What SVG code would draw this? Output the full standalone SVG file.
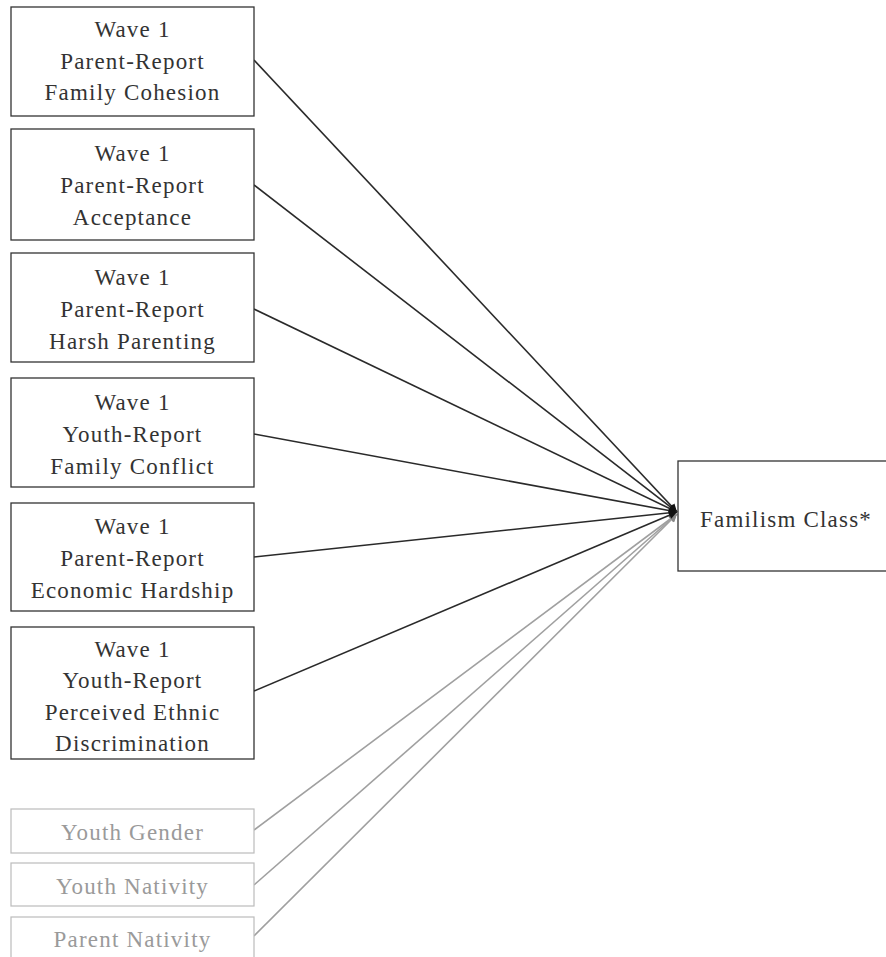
<svg xmlns="http://www.w3.org/2000/svg" width="886" height="957" viewBox="0 0 886 957">
<style>
.box{fill:#fff;stroke:#333;stroke-width:1.3}
.gbox{fill:#fff;stroke:#bbb;stroke-width:1.2}
text{font-family:'Liberation Serif','Times New Roman',Times,serif;font-size:23px;letter-spacing:1.2px;text-anchor:middle;fill:#333}
.g text{fill:#9a9a9a}
.c line{stroke:#2a2a2a;stroke-width:1.6;fill:none}
.c line.gl{stroke:#a0a0a0;stroke-width:1.6}
</style>
<defs>
<marker id="ah" viewBox="0 0 10 10" refX="10" refY="5" markerWidth="10" markerHeight="8" orient="auto" markerUnits="userSpaceOnUse"><path d="M0,0 L10,5 L0,10 z" fill="#111"/></marker>
<marker id="ahg" viewBox="0 0 10 10" refX="10" refY="5" markerWidth="10" markerHeight="8" orient="auto" markerUnits="userSpaceOnUse"><path d="M0,0 L10,5 L0,10 z" fill="#888"/></marker>
</defs>
<g class="c" id="connectors">
<line class="gl" x1="254" y1="830" x2="677" y2="514" marker-end="url(#ahg)"/>
<line class="gl" x1="254" y1="885" x2="677" y2="514" marker-end="url(#ahg)"/>
<line class="gl" x1="254" y1="936" x2="677" y2="514" marker-end="url(#ahg)"/>
<line x1="254" y1="60" x2="677" y2="512" marker-end="url(#ah)"/>
<line x1="254" y1="185" x2="677" y2="512" marker-end="url(#ah)"/>
<line x1="254" y1="309" x2="677" y2="512" marker-end="url(#ah)"/>
<line x1="254" y1="434" x2="677" y2="512" marker-end="url(#ah)"/>
<line x1="254" y1="557" x2="677" y2="512" marker-end="url(#ah)"/>
<line x1="254" y1="691" x2="677" y2="512" marker-end="url(#ah)"/>
</g>
<g id="n1"><rect class="box" x="11" y="7" width="243" height="109"/><text x="132.5" y="37">Wave 1</text><text x="132.5" y="69">Parent-Report</text><text x="132.5" y="100">Family Cohesion</text></g>
<g id="n2"><rect class="box" x="11" y="129" width="243" height="111"/><text x="132.5" y="161">Wave 1</text><text x="132.5" y="193">Parent-Report</text><text x="132.5" y="225">Acceptance</text></g>
<g id="n3"><rect class="box" x="11" y="253" width="243" height="109"/><text x="132.5" y="285">Wave 1</text><text x="132.5" y="317">Parent-Report</text><text x="132.5" y="349">Harsh Parenting</text></g>
<g id="n4"><rect class="box" x="11" y="378" width="243" height="109"/><text x="132.5" y="410">Wave 1</text><text x="132.5" y="442">Youth-Report</text><text x="132.5" y="474">Family Conflict</text></g>
<g id="n5"><rect class="box" x="11" y="503" width="243" height="108"/><text x="132.5" y="534">Wave 1</text><text x="132.5" y="566">Parent-Report</text><text x="132.5" y="598">Economic Hardship</text></g>
<g id="n6"><rect class="box" x="11" y="627" width="243" height="132"/><text x="132.5" y="657">Wave 1</text><text x="132.5" y="688">Youth-Report</text><text x="132.5" y="720">Perceived Ethnic</text><text x="132.5" y="751">Discrimination</text></g>
<g id="n7" class="g"><rect class="gbox" x="11" y="809" width="243" height="44"/><text x="132.5" y="840">Youth Gender</text></g>
<g id="n8" class="g"><rect class="gbox" x="11" y="863" width="243" height="43"/><text x="132.5" y="894">Youth Nativity</text></g>
<g id="n9" class="g"><rect class="gbox" x="11" y="917" width="243" height="50"/><text x="132.5" y="947">Parent Nativity</text></g>
<g id="familism"><rect class="box" x="678" y="461" width="212" height="110"/><text x="786" y="527">Familism Class*</text></g>
</svg>
